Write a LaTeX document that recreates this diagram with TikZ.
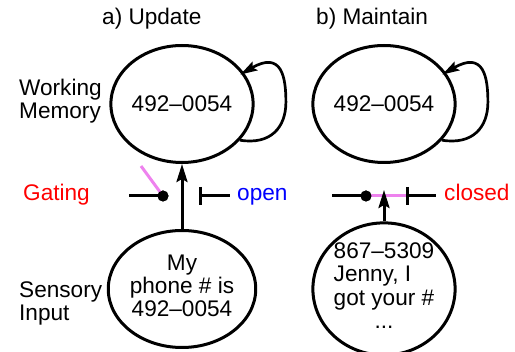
\documentclass[tikz,border=0pt]{standalone}
\usepackage{fontspec}
\setmainfont{Liberation Sans}
\usetikzlibrary{arrows.meta,shapes.geometric}
\definecolor{pinkc}{RGB}{238,130,238}
\begin{document}
\begin{tikzpicture}[x=1pt,y=-1pt,
  every node/.style={font=\fontsize{22.6}{23}\selectfont, inner sep=0pt},
  unit/.style={draw, line width=3pt, ellipse, minimum width=127pt, minimum height=117pt},
  ln/.style={line width=3pt},
  arr/.style={line width=3pt, -{Stealth[length=18pt,width=11pt,inset=3pt]}},
  loopar/.style={line width=2.7pt, -{Stealth[length=17pt,width=10pt,inset=3pt]}, shorten >=-4pt},
  gatelink/.style={line width=3pt, draw=pinkc},
  dotn/.style={circle, fill=black, minimum size=11pt},
  lab/.style={anchor=base west}
]
\useasboundingbox (0,0) rectangle (515,352);

% titles and side labels
\node[lab] (ta) at (102,25) {a) Update};
\node[lab] (tb) at (316,25) {b) Maintain};
\node[lab] (wmlab) at (19,96) {\begin{tabular}[t]{@{}l@{}}Working\\Memory\end{tabular}};
\node[lab] (silab) at (19,298) {\begin{tabular}[t]{@{}l@{}}Sensory\\Input\end{tabular}};
\node[lab, text=red] (gating) at (23,201) {Gating};
\node[lab, text=blue] (open) at (237,201) {open};
\node[lab, text=red] (closed) at (444,201) {closed};

% units
\node[unit] (wm1) at (182,104) {\raisebox{-5pt}{492–0054}};
\node[unit] (wm2) at (384,104) {\raisebox{-5pt}{492–0054}};
\node[unit] (si1) at (182,289) {\raisebox{-4.5pt}{\begin{tabular}{@{}c@{}}My\\phone \# is\\492–0054\end{tabular}}};
\node[unit] (si2) at (384,289) {\raisebox{-16pt}{\begin{tabular}{@{}l@{}}867–5309\\[0.5pt]Jenny, I\\[0.5pt]got your \#\\[0.5pt]\multicolumn{1}{@{}c@{}}{...}\end{tabular}}};

% self loops
\draw[loopar] (wm1.-32) .. controls +(31,5) and +(0,25) .. ++(46,-38)
  .. controls +(0,-25) and +(38,-22) .. (wm1.27);
\draw[loopar] (wm2.-32) .. controls +(31,5) and +(0,25) .. ++(46,-38)
  .. controls +(0,-25) and +(38,-22) .. (wm2.27);

% gating a) open
\coordinate (gl1) at (129,196);
\coordinate (pk1) at (141,166);
\coordinate (b1t) at (200,187);
\coordinate (b1b) at (200,205);
\coordinate (b1) at (200,196);
\coordinate (gr1) at (230,196);
\node[dotn] (d1) at (163,196) {};
\draw[gatelink] (d1.center) -- (pk1);
\draw[ln] (gl1) -- (d1.center);
\node[dotn] at (d1) {};
\draw[ln] (b1t) -- (b1b);
\draw[ln] (b1) -- (gr1);
\draw[arr] (si1) -- (wm1);

% gating b) closed
\coordinate (gl2) at (332,196);
\coordinate (b2t) at (407,187);
\coordinate (b2b) at (407,205);
\coordinate (b2) at (407,196);
\coordinate (gr2) at (436,196);
\coordinate (g2) at (384,190);
\node[dotn] (d2) at (366,196) {};
\draw[gatelink] (d2.center) -- (b2);
\draw[ln] (gl2) -- (d2.center);
\node[dotn] at (d2) {};
\draw[ln] (b2t) -- (b2b);
\draw[ln] (b2) -- (gr2);
\draw[arr] (si2) -- (g2);
\end{tikzpicture}
\end{document}
